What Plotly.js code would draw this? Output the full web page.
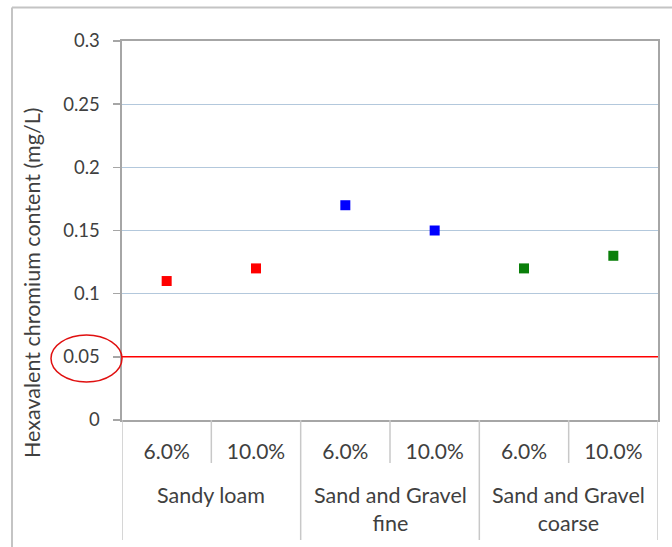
<!DOCTYPE html>
<html>
<head>
<meta charset="utf-8">
<script src="https://cdn.plot.ly/plotly-3.0.1.min.js"></script>
<style>html,body{margin:0;padding:0;background:#fff;}#chart{width:672px;height:547px;}</style>
</head>
<body>
<div id="chart"></div>
<script>
// ---- data ----
const subLabels = ["6.0%", "10.0%", "6.0%", "10.0%", "6.0%", "10.0%"];
const groupLabels = ["Sandy loam", "Sand and Gravel<br>fine", "Sand and Gravel<br>coarse"];
const sandyLoam = [0.11, 0.12];
const sandGravelFine = [0.17, 0.15];
const sandGravelCoarse = [0.12, 0.13];
const limitValue = 0.05;
const yTickVals = [0, 0.05, 0.1, 0.15, 0.2, 0.25, 0.3];
const yTickText = ["0", "0.05", "0.1", "0.15", "0.2", "0.25", "0.3"];

// ---- geometry helpers (plot area in px) ----
const W = 672, H = 547;
const L = 122, R = 658, T = 41, B = 420;
const pw = R - L, ph = B - T;
const px = x => (x - L) / pw;          // pixel x -> paper x
const py = y => (B - y) / ph;          // pixel y -> paper y

const FONT = "Lato, 'Open Sans', sans-serif";
const txt = "#404040";
const axisGray = "#a6a6a6";
const PAD = "\u00a0\u00a0"; // spacing between y tick labels and tick marks

const groups = [sandyLoam, sandGravelFine, sandGravelCoarse];
const colors = ["#ff0000", "#0000ff", "#0a7f0a"];
const traces = groups.map((vals, g) => ({
  type: "scatter",
  mode: "markers",
  x: vals.map((_, i) => g * 2 + i),
  y: vals,
  marker: {symbol: "square", size: 10, color: colors[g]},
  hoverinfo: "skip",
  showlegend: false
}));

const nCat = subLabels.length;
const shapes = [];
// limit line
shapes.push({type: "line", xref: "x", yref: "y", x0: -0.5, x1: nCat - 0.5, y0: limitValue, y1: limitValue,
  line: {color: "#ff0000", width: 1.5}});
// ellipse around 0.05 label
shapes.push({type: "circle", xref: "paper", yref: "paper",
  x0: px(51), x1: px(122), y0: py(382), y1: py(335),
  line: {color: "#e01010", width: 1.5}});
// category separators
for (let k = 0; k <= nCat; k++) {
  const xv = k - 0.5;
  const isGroup = k % 2 === 0;
  shapes.push({type: "line", xref: "x", yref: "paper", x0: xv, x1: xv,
    y0: 0, y1: isGroup ? py(540) : py(463),
    line: {color: "#c8c8c8", width: 1.5}});
}
// outer frame
shapes.push({type: "line", xref: "paper", yref: "paper", x0: px(12), x1: px(672), y0: py(7.5), y1: py(7.5),
  line: {color: "#c4c4c4", width: 2}});
shapes.push({type: "line", xref: "paper", yref: "paper", x0: px(12), x1: px(12), y0: py(7.5), y1: py(547),
  line: {color: "#c4c4c4", width: 2}});

const annotations = [];
groupLabels.forEach((g, i) => {
  annotations.push({xref: "x", yref: "paper", x: i * 2 + 0.5, y: py(480), yanchor: "top", xanchor: "center",
    text: g, showarrow: false, font: {family: FONT, size: 21.5, color: txt}, align: "center"});
});
annotations.push({xref: "paper", yref: "paper", x: px(32), y: py(283), xanchor: "center", yanchor: "middle",
  text: "Hexavalent chromium content (mg/L)", textangle: -90, showarrow: false,
  font: {family: FONT, size: 21.5, color: txt}});

const layout = {
  width: W, height: H,
  margin: {l: L, r: W - R, t: T, b: H - B, pad: 0},
  paper_bgcolor: "#ffffff",
  plot_bgcolor: "#ffffff",
  font: {family: FONT, color: txt},
  showlegend: false,
  xaxis: {
    range: [-0.5, nCat - 0.5],
    tickvals: subLabels.map((_, i) => i),
    ticktext: subLabels,
    tickfont: {family: FONT, size: 21, color: txt},
    ticks: "", showgrid: false, zeroline: false,
    showline: true, linecolor: axisGray, linewidth: 2, mirror: true,
    ticklabelstandoff: 12,
    fixedrange: true
  },
  yaxis: {
    range: [0, 0.3],
    tickvals: yTickVals,
    ticktext: yTickText.map(t => t + PAD),
    tickfont: {family: FONT, size: 18.5, color: txt},
    ticks: "outside", ticklen: 7, tickcolor: axisGray, tickwidth: 1.5,
    showgrid: true, gridcolor: "#b3c8dc", gridwidth: 1,
    zeroline: false,
    showline: true, linecolor: axisGray, linewidth: 2, mirror: true,
    fixedrange: true
  },
  shapes: shapes,
  annotations: annotations
};

Plotly.newPlot("chart", traces, layout, {staticPlot: true, displayModeBar: false});
</script>
</body>
</html>
